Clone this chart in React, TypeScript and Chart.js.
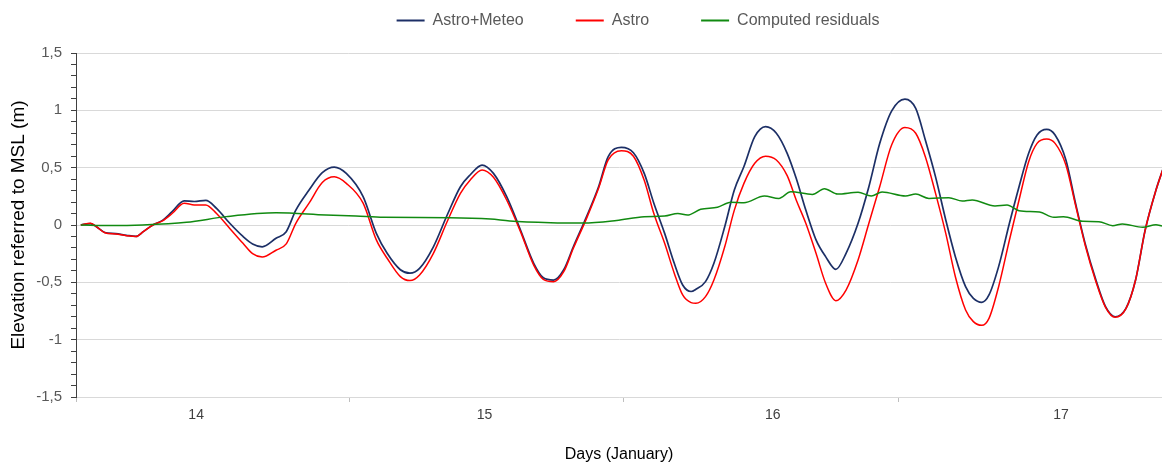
import React, { useEffect, useRef } from 'react';
import { Chart, registerables } from 'chart.js';

Chart.register(...registerables);

// ---- data (hours from the left edge of the time axis) ----
const seriesNames = ['Astro+Meteo', 'Astro', 'Computed residuals'];

const tideHours = [
  0.4, 1.2, 1.7, 2.4, 3.3, 4.2, 5.0, 5.6, 6.4, 7.2, 8.0, 9.0, 9.85, 10.8, 11.7, 12.8, 13.9, 14.7, 15.5,
  16.65, 17.5, 18.3, 19.4, 20.5, 21.5, 22.5, 23.9, 25.0, 25.9, 27.0, 27.8, 28.6, 29.75, 30.9, 32.0,
  32.8, 33.8, 34.75, 35.85, 37.0, 38.1, 38.9, 39.75, 40.6, 41.4, 42.5, 43.5, 44.3, 45.4, 46.4, 47.3,
  48.1, 49.0, 49.8, 50.5, 51.2, 51.6, 52.4, 53.1, 54.0, 54.8, 55.6, 56.5, 57.4, 58.3, 59.2, 59.95,
  60.75, 61.6, 62.4, 63.25, 64.1, 65.1, 66.0, 66.9, 67.9, 69.0, 69.9, 70.7, 71.55, 72.4, 73.2, 74.05,
  74.7, 75.4, 76.0, 76.8, 77.7, 78.5, 79.3, 80.0, 80.8, 81.5, 82.4, 83.2, 84.0, 84.9, 85.7, 86.5,
  87.4, 88.2, 89.0, 89.9, 90.5,
];

const astroMeteoValues = [
  0.0, 0.012, -0.015, -0.065, -0.075, -0.09, -0.1, -0.058, 0.0, 0.04, 0.116, 0.21, 0.205, 0.215, 0.145,
  0.015, -0.1, -0.165, -0.19, -0.116, -0.058, 0.13, 0.305, 0.456, 0.505, 0.45, 0.247, -0.073, -0.247,
  -0.39, -0.42, -0.378, -0.19, 0.087, 0.334, 0.436, 0.523, 0.45, 0.247, -0.044, -0.334, -0.46, -0.48,
  -0.39, -0.19, 0.073, 0.334, 0.596, 0.677, 0.63, 0.45, 0.19, -0.073, -0.334, -0.523, -0.58, -0.561,
  -0.494, -0.334, -0.015, 0.305, 0.51, 0.77, 0.858, 0.8, 0.625, 0.407, 0.13, -0.13, -0.276, -0.387,
  -0.247, 0.015, 0.334, 0.71, 0.995, 1.098, 1.017, 0.741, 0.42, 0.044, -0.276, -0.537, -0.64, -0.674,
  -0.61, -0.363, 0.015, 0.334, 0.625, 0.785, 0.834, 0.785, 0.567, 0.19, -0.16, -0.48, -0.712, -0.8,
  -0.727, -0.48, -0.044, 0.305, 0.494,
];

const astroValues = [
  0.0, 0.015, -0.015, -0.067, -0.078, -0.093, -0.1, -0.058, 0.0, 0.036, 0.1, 0.19, 0.175, 0.175, 0.1,
  -0.03, -0.16, -0.25, -0.28, -0.22, -0.165, 0.015, 0.19, 0.37, 0.42, 0.363, 0.19, -0.13, -0.29,
  -0.45, -0.485, -0.436, -0.247, 0.03, 0.276, 0.39, 0.48, 0.416, 0.218, -0.058, -0.35, -0.474, -0.494,
  -0.407, -0.203, 0.058, 0.32, 0.567, 0.647, 0.6, 0.39, 0.1, -0.16, -0.42, -0.61, -0.677, -0.683,
  -0.625, -0.48, -0.19, 0.13, 0.363, 0.538, 0.6, 0.567, 0.43, 0.218, 0.015, -0.247, -0.508, -0.66,
  -0.567, -0.305, 0.015, 0.334, 0.7, 0.85, 0.8, 0.596, 0.276, -0.073, -0.451, -0.741, -0.843, -0.875,
  -0.814, -0.538, -0.131, 0.218, 0.552, 0.712, 0.75, 0.712, 0.523, 0.174, -0.174, -0.494, -0.718, -0.805,
  -0.73, -0.48, -0.044, 0.305, 0.494,
];

const residualHours = [
  0.4, 2.8, 5.55, 9.2, 12.5, 16.65, 20.8, 23.3, 25.6, 31.1, 34.5, 36.1, 39.5, 42.2, 45.0, 47.3, 49.0,
  50.1, 50.9, 52.0, 53.4, 54.5, 55.6, 57.3, 58.5, 59.5, 61.3, 62.3, 63.4, 65.1, 66.2, 67.1, 69.05,
  69.9, 71.0, 72.66, 73.77, 74.6, 76.5, 77.5, 78.5, 80.2, 81.4, 82.2, 83.8, 85.15, 86.3, 87.1, 88.8,
  89.9, 90.4,
];

const residualValues = [
  0.0, -0.005, 0.0, 0.023, 0.073, 0.107, 0.087, 0.078, 0.067, 0.064, 0.052, 0.035, 0.02, 0.017, 0.04,
  0.073, 0.078, 0.1, 0.087, 0.137, 0.154, 0.198, 0.195, 0.253, 0.232, 0.29, 0.267, 0.317, 0.27, 0.285,
  0.253, 0.288, 0.253, 0.27, 0.232, 0.238, 0.209, 0.218, 0.166, 0.174, 0.125, 0.113, 0.067, 0.073,
  0.032, 0.029, -0.006, 0.009, -0.02, 0.003, -0.009,
];

const dayLabels = ['14', '15', '16', '17'];
const dayLabelHours = [10, 34, 58, 82];
const dayTickMarkHours = [0, 22.8, 45.6, 68.5];
const xMaxHours = 90.4;

const yMin = -1.5;
const yMax = 1.5;
const yMinorStep = 0.1;
const yMajorStep = 0.5;

const yTitle = 'Elevation referred to MSL (m)';
const xTitle = 'Days (January)';

const colors = ['#1c2f66', '#ff0000', '#118a11'];

const isMajor = (v: number) => Math.abs(v / yMajorStep - Math.round(v / yMajorStep)) < 1e-6;
const fmt = (v: number) => String(Math.round(v * 10) / 10).replace('.', ',');

// moves the legend row (drawn by Chart.js) to its place above the plot
const legendOffsetPlugin = {
  id: 'legendOffset',
  afterLayout(chart: any) {
    const lg = chart.legend;
    if (!lg) return;
    lg.left += 57;
    lg.right += 57;
    lg.top -= 39.5;
  },
};

export default function App() {
  const canvasRef = useRef<HTMLCanvasElement | null>(null);

  useEffect(() => {
    if (!canvasRef.current) return;
    Chart.defaults.font.family = "'Liberation Sans', Arial, sans-serif";

    const mk = (hours: number[], vals: number[]) => hours.map((h, i) => ({ x: h, y: vals[i] }));

    const chart = new Chart(canvasRef.current, {
      type: 'line',
      data: {
        datasets: [
          {
            label: seriesNames[0],
            data: mk(tideHours, astroMeteoValues),
            borderColor: colors[0],
            backgroundColor: colors[0],
            borderWidth: 1.7,
            pointRadius: 0,
            cubicInterpolationMode: 'monotone',
            order: 3,
          },
          {
            label: seriesNames[1],
            data: mk(tideHours, astroValues),
            borderColor: colors[1],
            backgroundColor: colors[1],
            borderWidth: 1.5,
            pointRadius: 0,
            cubicInterpolationMode: 'monotone',
            order: 2,
          },
          {
            label: seriesNames[2],
            data: mk(residualHours, residualValues),
            borderColor: colors[2],
            backgroundColor: colors[2],
            borderWidth: 1.5,
            pointRadius: 0,
            cubicInterpolationMode: 'monotone',
            order: 1,
          },
        ],
      },
      options: {
        responsive: false,
        animation: false,
        events: [],
        layout: { padding: 0 },
        plugins: {
          tooltip: { enabled: false },
          legend: {
            position: 'top',
            align: 'center',
            maxHeight: 53,
            labels: {
              boxWidth: 28,
              boxHeight: 2,
              padding: 52,
              color: '#595959',
              font: { size: 16 },
              generateLabels: (ch: any) =>
                Chart.defaults.plugins.legend.labels
                  .generateLabels(ch)
                  .map((it: any) => ({ ...it, lineWidth: 0 }))
                  .sort((a: any, b: any) => a.datasetIndex - b.datasetIndex),
            },
          },
        },
        scales: {
          x: {
            type: 'linear',
            min: 0,
            max: xMaxHours,
            afterBuildTicks: (scale: any) => {
              const vals = [...dayTickMarkHours, ...dayLabelHours].sort((a, b) => a - b);
              scale.ticks = vals.map((v) => ({ value: v }));
            },
            afterFit: (scale: any) => {
              scale.height = 67;
            },
            ticks: {
              autoSkip: false,
              maxRotation: 0,
              padding: 5,
              color: '#404040',
              font: { size: 14 },
              callback: (value: any) => {
                const i = dayLabelHours.indexOf(Number(value));
                return i >= 0 ? dayLabels[i] : '';
              },
            },
            grid: {
              drawOnChartArea: false,
              drawTicks: true,
              tickLength: 5,
              tickColor: (ctx: any) =>
                ctx.tick && dayTickMarkHours.includes(ctx.tick.value) ? '#bfbfbf' : 'rgba(0,0,0,0)',
            },
            border: { display: true, color: '#d9d9d9', width: 1 },
            title: {
              display: true,
              text: xTitle,
              color: '#000000',
              font: { size: 16 },
              padding: { top: 0, bottom: 0 },
            },
          },
          y: {
            type: 'linear',
            min: yMin,
            max: yMax,
            afterBuildTicks: (scale: any) => {
              const n = Math.round((yMax - yMin) / yMinorStep);
              const arr = [];
              for (let i = 0; i <= n; i++) arr.push({ value: Math.round((yMin + i * yMinorStep) * 10) / 10 });
              scale.ticks = arr;
            },
            afterFit: (scale: any) => {
              scale.width = 76;
            },
            ticks: {
              autoSkip: false,
              padding: 9,
              color: '#595959',
              font: { size: 15 },
              callback: (value: any) => (isMajor(Number(value)) ? fmt(Number(value)) : ''),
            },
            grid: {
              drawTicks: true,
              tickLength: 5,
              color: (ctx: any) => (ctx.tick && isMajor(ctx.tick.value) ? '#d9d9d9' : 'rgba(0,0,0,0)'),
              tickColor: '#404040',
              lineWidth: 1,
            },
            border: { display: true, color: '#404040', width: 1 },
            title: {
              display: true,
              text: yTitle,
              color: '#000000',
              font: { size: 19 },
              padding: { top: 7, bottom: 0 },
            },
          },
        },
      },
      plugins: [legendOffsetPlugin],
    } as any);

    return () => chart.destroy();
  }, []);

  return (
    <div style={{ position: 'absolute', left: 0, top: 0, width: 1162, height: 464, background: '#fff' }}>
      <canvas ref={canvasRef} width={1162} height={464} style={{ display: 'block' }} />
    </div>
  );
}
